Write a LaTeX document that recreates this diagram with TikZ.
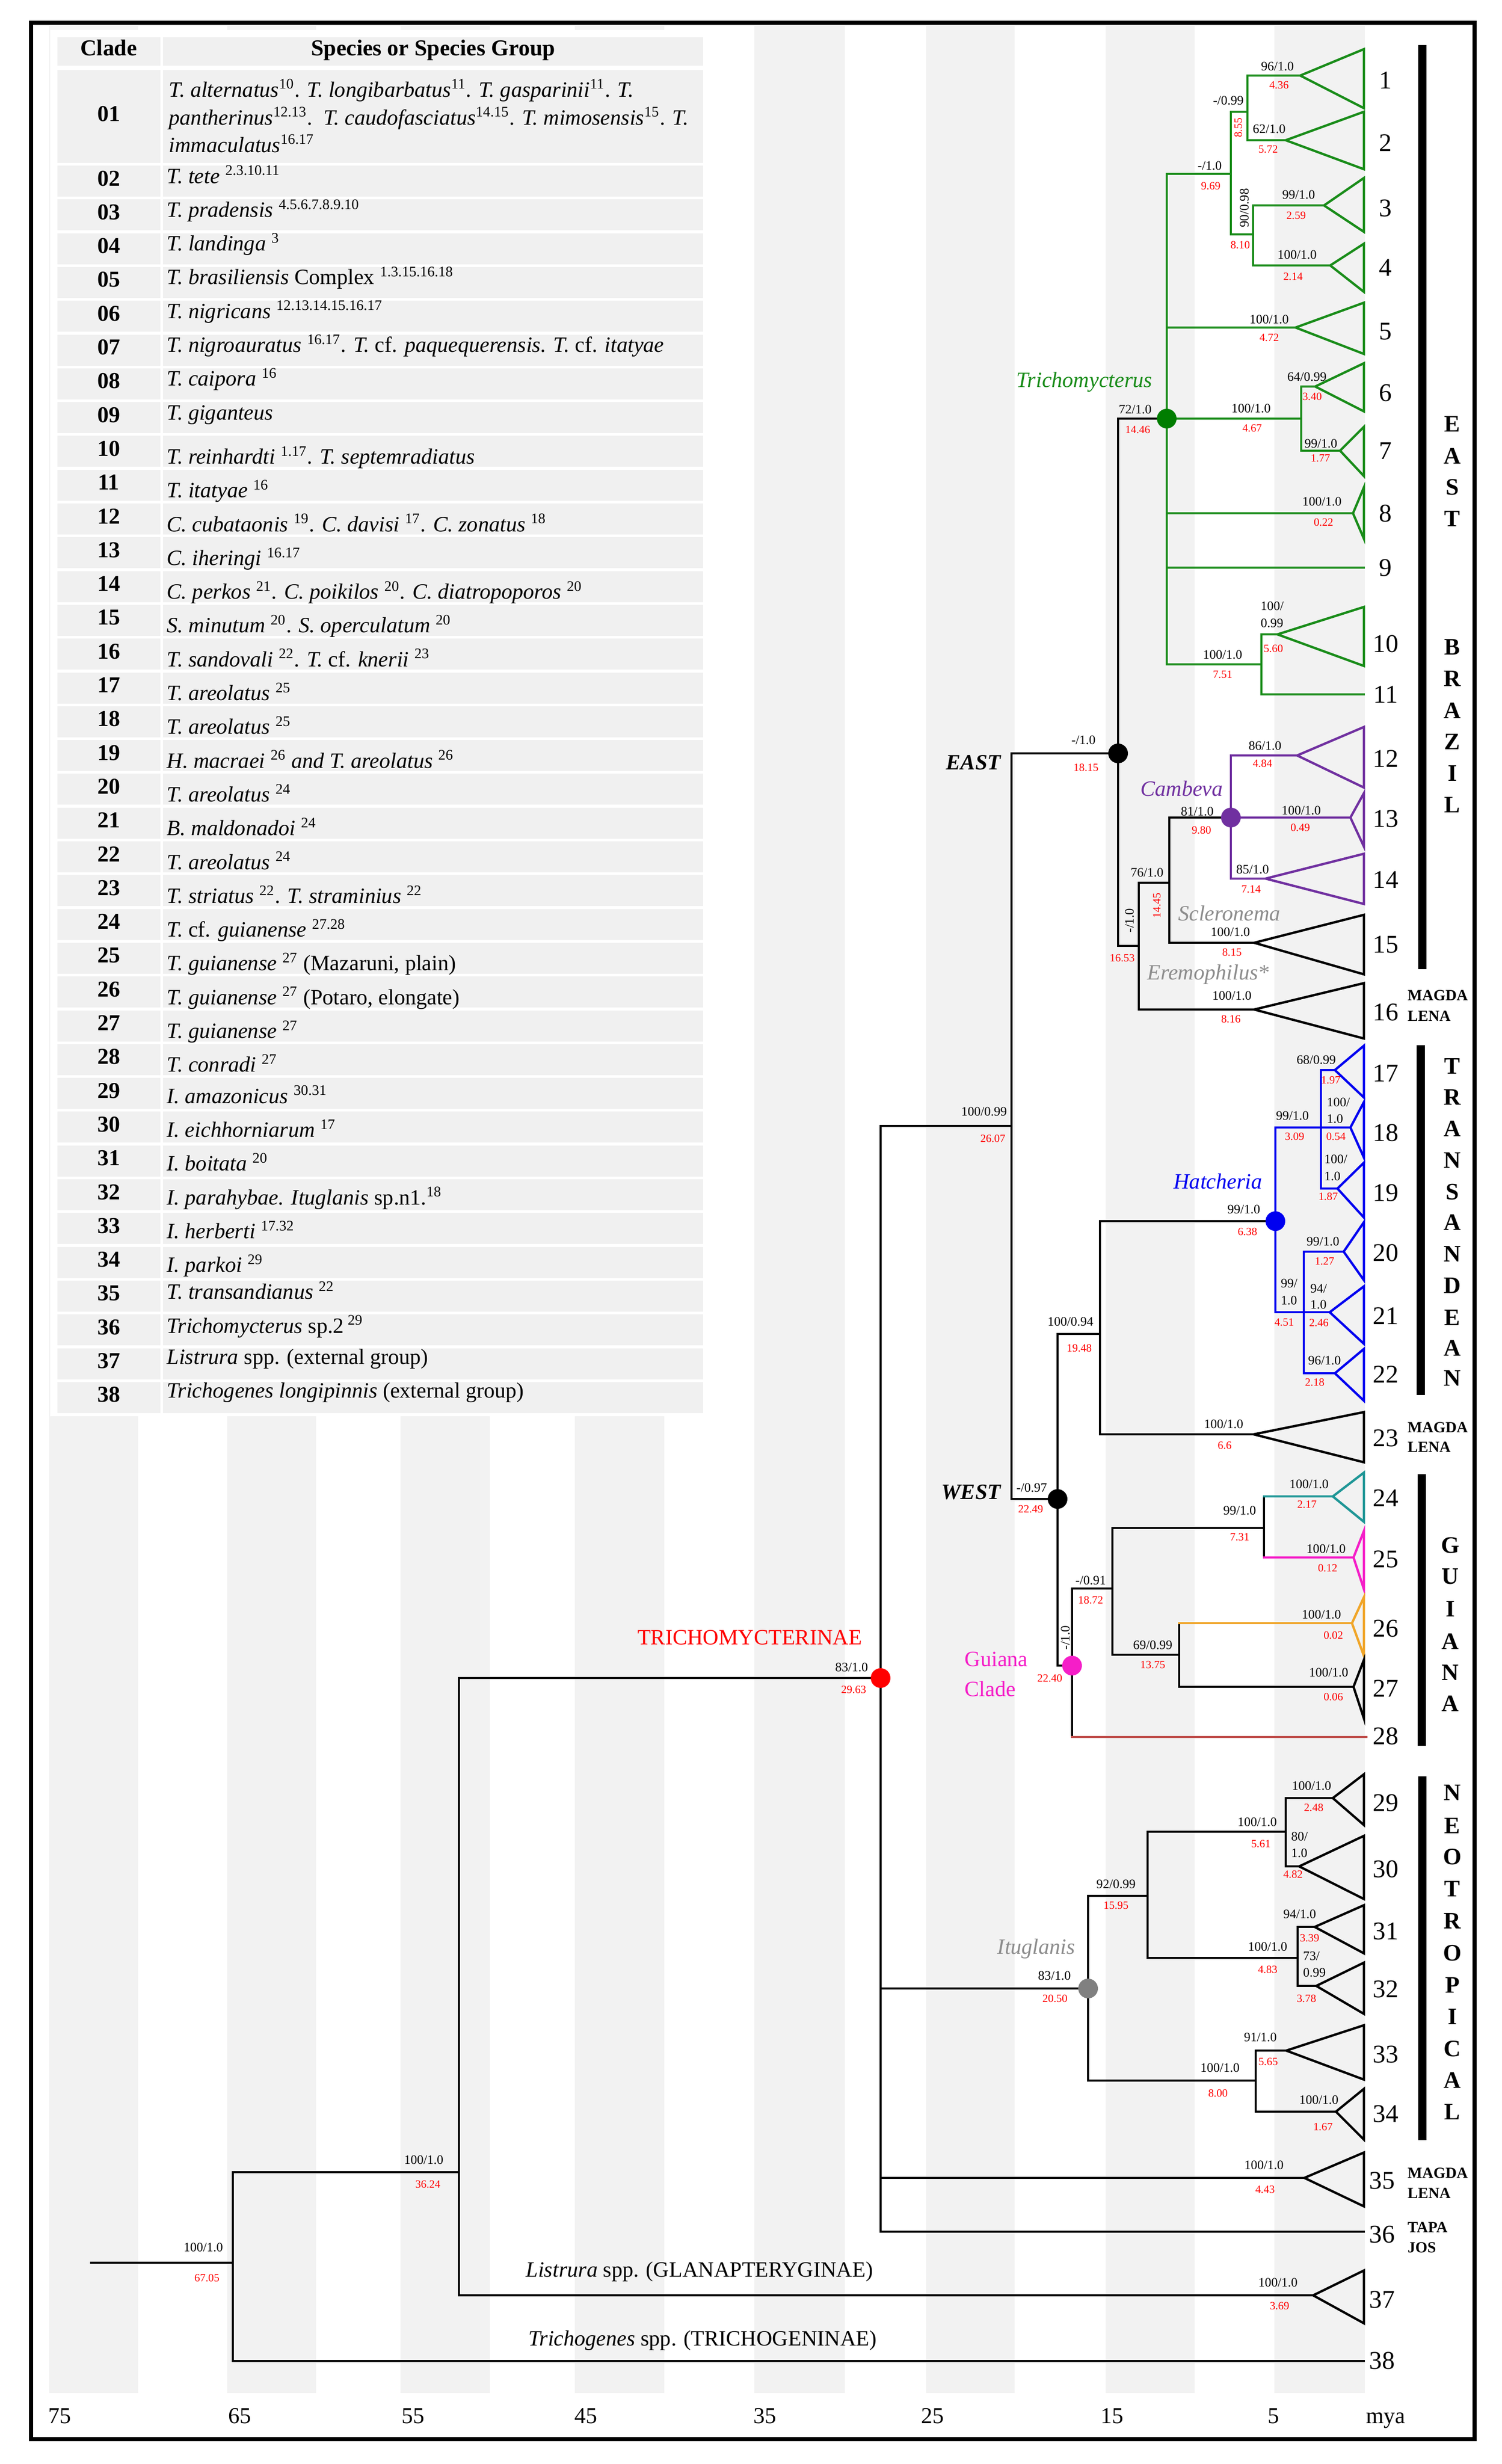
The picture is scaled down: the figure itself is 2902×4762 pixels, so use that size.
\documentclass[tikz,border=0pt]{standalone}
\usepackage{fontspec}
\setmainfont{Liberation Serif}
\definecolor{bandgray}{RGB}{242,242,242}
\definecolor{cellgray}{RGB}{240,240,240}
\definecolor{tgreen}{RGB}{25,140,25}
\definecolor{dgreen}{RGB}{0,125,0}
\definecolor{tpurple}{RGB}{112,48,160}
\definecolor{tblue}{RGB}{0,0,240}
\definecolor{tteal}{RGB}{30,150,150}
\definecolor{tpink}{RGB}{245,30,200}
\definecolor{torange}{RGB}{240,165,40}
\definecolor{tbrown}{RGB}{192,80,77}
\definecolor{tred}{RGB}{255,0,0}
\definecolor{tgray}{RGB}{140,140,140}
\definecolor{dotgray}{RGB}{128,128,128}
\newcounter{lab}
\newcommand{\SL}[3]{\stepcounter{lab}\node[suplab] (s\thelab) at (#1,#2) {#3};}
\newcommand{\SLW}[3]{\stepcounter{lab}\node[suplab,anchor=west] (s\thelab) at (#1,#2) {#3};}
\newcommand{\AL}[3]{\stepcounter{lab}\node[agelab] (a\thelab) at (#1,#2) {#3};}
\newcommand{\tri}[4]{\draw[#1] (#2) -- (2636,#3) -- (2636,#4) -- cycle;}
\newcommand{\sprow}[3]{\pgfmathsetmacro\rowtop{320+(#1-2)*65.3}\node[sptext] (sp#1) at (322,\rowtop+#2) {#3};}
\begin{document}
\begin{tikzpicture}[x=0.01cm,y=-0.01cm,
  br/.style={line width=0.045cm,line cap=rect,line join=miter},
  blk/.style={br,draw=black}, grn/.style={br,draw=tgreen}, pur/.style={br,draw=tpurple},
  blu/.style={br,draw=tblue}, tea/.style={br,draw=tteal}, pnk/.style={br,draw=tpink},
  org/.style={br,draw=torange}, brn/.style={br,draw=tbrown},
  suplab/.style={inner sep=0pt,font=\fontsize{7.1}{8}\selectfont},
  agelab/.style={inner sep=0pt,text=tred,font=\fontsize{6.1}{7}\selectfont},
  tipnum/.style={inner sep=0pt,font=\fontsize{14}{16}\selectfont},
  reg/.style={inner sep=0pt,font=\fontsize{13}{15}\selectfont\bfseries},
  area/.style={inner sep=0pt,anchor=west,font=\fontsize{8.5}{10}\selectfont\bfseries},
  clname/.style={inner sep=0pt,font=\fontsize{12}{14}\selectfont\itshape},
  ewlab/.style={inner sep=0pt,anchor=east,font=\fontsize{12}{14}\selectfont\bfseries\itshape},
  plain/.style={inner sep=0pt,font=\fontsize{12}{14}\selectfont},
  dot/.style={circle,inner sep=0pt,minimum size=0.38cm,draw=none},
  axlab/.style={inner sep=0pt,anchor=base,font=\fontsize{12.5}{14}\selectfont},
  cnum/.style={inner sep=0pt,anchor=base,font=\fontsize{12.5}{15}\selectfont\bfseries},
  hdr/.style={inner sep=0pt,anchor=base,font=\fontsize{12.5}{15}\selectfont\bfseries},
  sptext/.style={inner sep=0pt,anchor=base west,font=\fontsize{12}{15}\selectfont},
  regbar/.style={line width=0.16cm}
]
\useasboundingbox (0,0) rectangle (2902,4762);
\fill[white] (0,0) rectangle (2902,4762);
% time bands
\foreach \a/\b in {95/267,439/611,774/947,1111/1284,1458/1633,1790/1961,2137/2309,2463/2638}
  \fill[bandgray] (\a,50) rectangle (\b,4625);
% ---------------- table ----------------
\fill[white] (97,58) rectangle (1367,2737);
\fill[cellgray] (111,72) rectangle (310,127);
\fill[cellgray] (315,72) rectangle (1359,127);
\fill[cellgray] (111,135) rectangle (310,315);
\fill[cellgray] (315,135) rectangle (1359,315);
\node[hdr] (hc) at (210,107) {Clade};
\node[hdr] (hs) at (837,107) {Species or Species Group};
\foreach \k in {2,...,38}{
  \pgfmathsetmacro\rowtop{320+(\k-2)*65.3}
  \fill[cellgray] (111,\rowtop) rectangle (310,\rowtop+60);
  \fill[cellgray] (315,\rowtop) rectangle (1359,\rowtop+60);
  \node[cnum] (cn\k) at (210,\rowtop+39) {\ifnum\k<10 0\fi\k};
}
\node[cnum] (cn1) at (210,234) {01};
\node[sptext] (sp1a) at (326,187) {\textit{T. alternatus}\textsuperscript{10}. \textit{T. longibarbatus}\textsuperscript{11}. \textit{T. gasparinii}\textsuperscript{11}. \textit{T.}};
\node[sptext] (sp1b) at (326,241) {\textit{pantherinus}\textsuperscript{12.13}.\ \ \textit{T. caudofasciatus}\textsuperscript{14.15}. \textit{T. mimosensis}\textsuperscript{15}. \textit{T.}};
\node[sptext] (sp1c) at (326,294) {\textit{immaculatus}\textsuperscript{16.17}};
\sprow{2}{34}{\textit{T. tete} \textsuperscript{2.3.10.11}}
\sprow{3}{34}{\textit{T. pradensis} \textsuperscript{4.5.6.7.8.9.10}}
\sprow{4}{34}{\textit{T. landinga} \textsuperscript{3}}
\sprow{5}{34}{\textit{T. brasiliensis} Complex \textsuperscript{1.3.15.16.18}}
\sprow{6}{34}{\textit{T. nigricans} \textsuperscript{12.13.14.15.16.17}}
\sprow{7}{34}{\textit{T. nigroauratus} \textsuperscript{16.17}. \textit{T.} cf. \textit{paquequerensis. T.} cf. \textit{itatyae}}
\sprow{8}{34}{\textit{T. caipora} \textsuperscript{16}}
\sprow{9}{34}{\textit{T. giganteus}}
\sprow{10}{54}{\textit{T. reinhardti} \textsuperscript{1.17}. \textit{T. septemradiatus}}
\sprow{11}{54}{\textit{T. itatyae} \textsuperscript{16}}
\sprow{12}{54}{\textit{C. cubataonis} \textsuperscript{19}. \textit{C. davisi} \textsuperscript{17}. \textit{C. zonatus} \textsuperscript{18}}
\sprow{13}{54}{\textit{C. iheringi} \textsuperscript{16.17}}
\sprow{14}{54}{\textit{C. perkos} \textsuperscript{21}. \textit{C. poikilos} \textsuperscript{20}. \textit{C. diatropoporos} \textsuperscript{20}}
\sprow{15}{54}{\textit{S. minutum} \textsuperscript{20}. \textit{S. operculatum} \textsuperscript{20}}
\sprow{16}{54}{\textit{T. sandovali} \textsuperscript{22}. \textit{T.} cf. \textit{knerii} \textsuperscript{23}}
\sprow{17}{54}{\textit{T. areolatus} \textsuperscript{25}}
\sprow{18}{54}{\textit{T. areolatus} \textsuperscript{25}}
\sprow{19}{54}{\textit{H. macraei} \textsuperscript{26} \textit{and T. areolatus} \textsuperscript{26}}
\sprow{20}{54}{\textit{T. areolatus} \textsuperscript{24}}
\sprow{21}{54}{\textit{B. maldonadoi} \textsuperscript{24}}
\sprow{22}{54}{\textit{T. areolatus} \textsuperscript{24}}
\sprow{23}{54}{\textit{T. striatus} \textsuperscript{22}. \textit{T. straminius} \textsuperscript{22}}
\sprow{24}{54}{\textit{T.} cf. \textit{guianense} \textsuperscript{27.28}}
\sprow{25}{54}{\textit{T. guianense} \textsuperscript{27} (Mazaruni, plain)}
\sprow{26}{54}{\textit{T. guianense} \textsuperscript{27} (Potaro, elongate)}
\sprow{27}{54}{\textit{T. guianense} \textsuperscript{27}}
\sprow{28}{54}{\textit{T. conradi} \textsuperscript{27}}
\sprow{29}{49}{\textit{I. amazonicus} \textsuperscript{30.31}}
\sprow{30}{49}{\textit{I. eichhorniarum} \textsuperscript{17}}
\sprow{31}{49}{\textit{I. boitata} \textsuperscript{20}}
\sprow{32}{49}{\textit{I. parahybae. Ituglanis} sp.n1.\textsuperscript{18}}
\sprow{33}{49}{\textit{I. herberti} \textsuperscript{17.32}}
\sprow{34}{49}{\textit{I. parkoi} \textsuperscript{29}}
\sprow{35}{36}{\textit{T. transandianus} \textsuperscript{22}}
\sprow{36}{36}{\textit{Trichomycterus} sp.2\,\textsuperscript{29}}
\sprow{37}{31}{\textit{Listrura} spp. (external group)}
\sprow{38}{31}{\textit{Trichogenes longipinnis} (external group)}
% ---------------- tree coordinates ----------------
\coordinate (t1) at (2513,146);  \coordinate (t2) at (2485,271);
\coordinate (t3) at (2559,397);  \coordinate (t4) at (2571,513);
\coordinate (t5) at (2504,633);  \coordinate (t6) at (2542,747);
\coordinate (t7) at (2590,871);  \coordinate (t8) at (2615,992);
\coordinate (t9) at (2636,1097); \coordinate (t10) at (2469,1226);
\coordinate (t11) at (2636,1342); \coordinate (t12) at (2507,1460);
\coordinate (t13) at (2610,1580); \coordinate (t14) at (2446,1698);
\coordinate (t15) at (2424,1822); \coordinate (t16) at (2424,1951);
\coordinate (t17) at (2580,2068); \coordinate (t18) at (2610,2179);
\coordinate (t19) at (2585,2297); \coordinate (t20) at (2597,2419);
\coordinate (t21) at (2570,2536); \coordinate (t22) at (2580,2654);
\coordinate (t23) at (2423,2772); \coordinate (t24) at (2576,2892);
\coordinate (t25) at (2616,3010); \coordinate (t26) at (2613,3137);
\coordinate (t27) at (2616,3260); \coordinate (t28) at (2641,3357);
\coordinate (t29) at (2576,3475); \coordinate (t30) at (2511,3607);
\coordinate (t31) at (2541,3724); \coordinate (t32) at (2544,3838);
\coordinate (t33) at (2486,3963); \coordinate (t34) at (2582,4081);
\coordinate (t35) at (2521,4209); \coordinate (t36) at (2636,4313);
\coordinate (t37) at (2538,4436); \coordinate (t38) at (2636,4563);
\coordinate (nA) at (2411,216);  \coordinate (nB) at (2422,453);
\coordinate (nC) at (2379,336);  \coordinate (nD) at (2515,809);
\coordinate (nE) at (2438,1284); \coordinate (nT) at (2255,809);
\coordinate (nEast) at (2161,1456); \coordinate (nCamb) at (2379,1580);
\coordinate (nF) at (2260,1706); \coordinate (nG) at (2201,1828);
\coordinate (nEW) at (1955,2176); \coordinate (nH) at (2465,2360);
\coordinate (nI) at (2553,2179); \coordinate (nJ) at (2520,2536);
\coordinate (nK) at (2126,2578); \coordinate (nWest) at (2044,2897);
\coordinate (nGui) at (2072,3219); \coordinate (nL) at (2150,3070);
\coordinate (nM) at (2443,2953); \coordinate (nN) at (2279,3198);
\coordinate (nTri) at (1702,3243); \coordinate (nItu) at (2103,3843);
\coordinate (nO) at (2218,3664); \coordinate (nP) at (2485,3540);
\coordinate (nQ) at (2508,3784); \coordinate (nR) at (2427,4021);
\coordinate (nS) at (887,4198);  \coordinate (nRoot) at (450,4373);
\coordinate (root) at (176,4373);
% ---------------- branches ----------------
\draw[grn] (nA) |- (t1); \draw[grn] (nA) |- (t2);
\draw[grn] (nB) |- (t3); \draw[grn] (nB) |- (t4);
\draw[grn] (nC) |- (nA); \draw[grn] (nC) |- (nB);
\draw[grn] (nD) |- (t6); \draw[grn] (nD) |- (t7);
\draw[grn] (nE) |- (t10); \draw[grn] (nE) |- (t11);
\draw[grn] (nT) |- (nC); \draw[grn] (nT) |- (t5); \draw[grn] (nT) |- (nD);
\draw[grn] (nT) |- (t8); \draw[grn] (nT) |- (t9); \draw[grn] (nT) |- (nE);
\draw[blk] (nEast) |- (nT); \draw[blk] (nEast) |- (nG);
\draw[blk] (nG) |- (nF); \draw[blk] (nG) |- (t16);
\draw[blk] (nF) |- (nCamb); \draw[blk] (nF) |- (t15);
\draw[pur] (nCamb) |- (t12); \draw[pur] (nCamb) |- (t13); \draw[pur] (nCamb) |- (t14);
\draw[blk] (nEW) |- (nEast); \draw[blk] (nEW) |- (nWest);
\draw[blk] (nWest) |- (nK); \draw[blk] (nK) |- (nH); \draw[blk] (nK) |- (t23);
\draw[blu] (nH) |- (nI); \draw[blu] (nH) |- (nJ);
\draw[blu] (nI) |- (t17); \draw[blu] (nI) |- (t18); \draw[blu] (nI) |- (t19);
\draw[blu] (nJ) |- (t20); \draw[blu] (nJ) |- (t21); \draw[blu] (nJ) |- (t22);
\draw[blk] (nWest) |- (nGui); \draw[blk] (nGui) |- (nL);
\draw[blk] (nL) |- (nM); \draw[blk] (nL) |- (nN);
\draw[blk] (nM) -- (nM |- t24); \draw[tea] (nM |- t24) -- (t24);
\draw[blk] (nM) -- (nM |- t25); \draw[pnk] (nM |- t25) -- (t25);
\draw[blk] (nN) -- (nN |- t26); \draw[org] (nN |- t26) -- (t26);
\draw[blk] (nN) |- (t27);
\draw[blk] (nGui) -- (nGui |- t28); \draw[brn] (nGui |- t28) -- (t28);
\draw[blk] (nTri) |- (nEW); \draw[blk] (nTri) |- (nItu);
\draw[blk] (nTri) |- (t35); \draw[blk] (nTri) |- (t36);
\draw[blk] (nItu) |- (nO); \draw[blk] (nItu) |- (nR);
\draw[blk] (nO) |- (nP); \draw[blk] (nO) |- (nQ);
\draw[blk] (nP) |- (t29); \draw[blk] (nP) |- (t30);
\draw[blk] (nQ) |- (t31); \draw[blk] (nQ) |- (t32);
\draw[blk] (nR) |- (t33); \draw[blk] (nR) |- (t34);
\draw[blk] (nS) |- (nTri); \draw[blk] (nS) |- (t37);
\draw[blk] (nRoot) |- (nS); \draw[blk] (nRoot) |- (t38);
\draw[blk] (root) -- (nRoot);
% ---------------- triangles ----------------
\tri{grn}{t1}{95}{209} \tri{grn}{t2}{216}{327} \tri{grn}{t3}{344}{448}
\tri{grn}{t4}{471}{564} \tri{grn}{t5}{585}{684} \tri{grn}{t6}{702}{795}
\tri{grn}{t7}{825}{920} \tri{grn}{t8}{942}{1041} \tri{grn}{t10}{1173}{1287}
\tri{pur}{t12}{1405}{1522} \tri{pur}{t13}{1533}{1636} \tri{pur}{t14}{1650}{1747}
\tri{blk}{t15}{1768}{1883} \tri{blk}{t16}{1900}{2007}
\tri{blu}{t17}{2021}{2121} \tri{blu}{t18}{2130}{2237} \tri{blu}{t19}{2247}{2353}
\tri{blu}{t20}{2362}{2474} \tri{blu}{t21}{2486}{2597} \tri{blu}{t22}{2607}{2707}
\tri{blk}{t23}{2729}{2826} \tri{tea}{t24}{2846}{2941} \tri{pnk}{t25}{2959}{3071}
\tri{org}{t26}{3087}{3200} \tri{blk}{t27}{3208}{3321}
\tri{blk}{t29}{3429}{3527} \tri{blk}{t30}{3548}{3670} \tri{blk}{t31}{3682}{3775}
\tri{blk}{t32}{3793}{3892} \tri{blk}{t33}{3914}{4019} \tri{blk}{t34}{4037}{4135}
\tri{blk}{t35}{4160}{4264} \tri{blk}{t37}{4388}{4490}
% ---------------- dots ----------------
\node[dot,fill=dgreen] (dT) at (nT) {};
\node[dot,fill=black] (dE) at (nEast) {};
\node[dot,fill=tpurple] (dC) at (nCamb) {};
\node[dot,fill=tblue] (dH) at (nH) {};
\node[dot,fill=black] (dW) at (nWest) {};
\node[dot,fill=tpink] (dG) at (nGui) {};
\node[dot,fill=tred] (dR) at (nTri) {};
\node[dot,fill=dotgray] (dI) at (nItu) {};
% ---------------- support / age labels ----------------
\SL{2469}{128}{96/1.0} \AL{2472}{165}{4.36}
\SL{2374}{194}{-/0.99}
\node[agelab,rotate=90] (r1) at (2393,247) {8.55};
\SL{2453}{249}{62/1.0} \AL{2451}{289}{5.72}
\SL{2338}{320}{-/1.0} \AL{2340}{360}{9.69}
\node[suplab,rotate=90] (r2) at (2405,402) {90/0.98};
\AL{2397}{474}{8.10}
\SL{2510}{376}{99/1.0} \AL{2505}{417}{2.59}
\SL{2507}{492}{100/1.0} \AL{2499}{535}{2.14}
\SL{2453}{617}{100/1.0} \AL{2453}{653}{4.72}
\SL{2526}{728}{64/0.99} \AL{2536}{766}{3.40}
\SL{2418}{789}{100/1.0} \AL{2420}{828}{4.67}
\SL{2194}{791}{72/1.0} \AL{2199}{831}{14.46}
\SL{2553}{857}{99/1.0} \AL{2552}{886}{1.77}
\SL{2555}{969}{100/1.0} \AL{2558}{1009}{0.22}
\SLW{2436}{1171}{100/} \SLW{2436}{1204}{0.99} \AL{2461}{1253}{5.60}
\SL{2363}{1265}{100/1.0} \AL{2363}{1304}{7.51}
\node[clname,text=tgreen] (lTri) at (2096,738) {Trichomycterus};
\SL{2094}{1430}{-/1.0} \AL{2099}{1483}{18.15}
\node[ewlab] (lEast) at (1935,1474) {EAST};
\SL{2445}{1441}{86/1.0} \AL{2440}{1475}{4.84}
\SL{2314}{1568}{81/1.0} \AL{2322}{1604}{9.80}
\SL{2515}{1566}{100/1.0} \AL{2513}{1599}{0.49}
\SL{2421}{1680}{85/1.0} \AL{2418}{1719}{7.14}
\SL{2217}{1686}{76/1.0}
\node[agelab,rotate=90] (r3) at (2236,1750) {14.45};
\node[suplab,rotate=90] (r4) at (2183,1779) {-/1.0};
\AL{2169}{1852}{16.53}
\SL{2378}{1801}{100/1.0} \AL{2381}{1840}{8.15}
\SL{2381}{1924}{100/1.0} \AL{2379}{1969}{8.16}
\node[clname,text=tpurple] (lCamb) at (2284,1524) {Cambeva};
\node[clname,text=tgray] (lScl) at (2376,1765) {Scleronema};
\node[clname,text=tgray] (lEre) at (2335,1883) {Eremophilus*};
\SL{1902}{2148}{100/0.99} \AL{1919}{2200}{26.07}
\SL{2544}{2048}{68/0.99} \AL{2572}{2088}{1.97}
\SLW{2564}{2130}{100/} \SLW{2564}{2162}{1.0} \AL{2582}{2196}{0.54}
\SLW{2559}{2240}{100/} \SLW{2559}{2273}{1.0} \AL{2567}{2312}{1.87}
\SL{2498}{2156}{99/1.0} \AL{2502}{2196}{3.09}
\node[clname,text=tblue] (lHat) at (2354,2283) {Hatcheria};
\SL{2404}{2337}{99/1.0} \AL{2411}{2380}{6.38}
\SL{2557}{2399}{99/1.0} \AL{2560}{2438}{1.27}
\SLW{2475}{2480}{99/} \SLW{2475}{2513}{1.0} \AL{2482}{2556}{4.51}
\SLW{2532}{2490}{94/} \SLW{2532}{2521}{1.0} \AL{2549}{2557}{2.46}
\SL{2560}{2629}{96/1.0} \AL{2541}{2671}{2.18}
\SL{2069}{2554}{100/0.94} \AL{2086}{2605}{19.48}
\SL{2365}{2752}{100/1.0} \AL{2367}{2794}{6.6}
\node[ewlab] (lWest) at (1935,2884) {WEST};
\SL{1994}{2875}{-/0.97} \AL{1992}{2917}{22.49}
\SL{2396}{2919}{99/1.0} \AL{2396}{2971}{7.31}
\SL{2530}{2868}{100/1.0} \AL{2526}{2908}{2.17}
\SL{2563}{2993}{100/1.0} \AL{2566}{3030}{0.12}
\SL{2108}{3054}{-/0.91} \AL{2108}{3092}{18.72}
\SL{2228}{3179}{69/0.99} \AL{2228}{3218}{13.75}
\SL{2554}{3120}{100/1.0} \AL{2577}{3160}{0.02}
\SL{2568}{3232}{100/1.0} \AL{2577}{3279}{0.06}
\node[suplab,rotate=90] (r5) at (2059,3165) {-/1.0};
\AL{2029}{3243}{22.40}
\node[plain,anchor=west,text=tpink] (lGui1) at (1864,3207) {Guiana};
\node[plain,anchor=west,text=tpink] (lGui2) at (1864,3264) {Clade};
\node[plain,text=tred] (lTrm) at (1449,3165) {TRICHOMYCTERINAE};
\SL{1646}{3222}{83/1.0} \AL{1650}{3266}{29.63}
\node[clname,text=tgray] (lItu) at (2003,3766) {Ituglanis};
\SL{2038}{3818}{83/1.0} \AL{2039}{3862}{20.50}
\SL{2157}{3641}{92/0.99} \AL{2157}{3683}{15.95}
\SL{2430}{3521}{100/1.0} \AL{2437}{3564}{5.61}
\SL{2535}{3451}{100/1.0} \AL{2539}{3493}{2.48}
\SLW{2495}{3549}{80/} \SLW{2495}{3581}{1.0} \AL{2499}{3622}{4.82}
\SL{2450}{3762}{100/1.0} \AL{2450}{3806}{4.83}
\SL{2512}{3699}{94/1.0} \AL{2531}{3746}{3.39}
\SLW{2518}{3780}{73/} \SLW{2518}{3812}{0.99} \AL{2525}{3862}{3.78}
\SL{2358}{3996}{100/1.0} \AL{2354}{4045}{8.00}
\SL{2436}{3937}{91/1.0} \AL{2451}{3984}{5.65}
\SL{2549}{4058}{100/1.0} \AL{2557}{4110}{1.67}
\SL{2443}{4184}{100/1.0} \AL{2445}{4231}{4.43}
\SL{2470}{4411}{100/1.0} \AL{2473}{4456}{3.69}
\SL{819}{4174}{100/1.0} \AL{827}{4221}{36.24}
\SL{393}{4343}{100/1.0} \AL{400}{4402}{67.05}
\node[plain] (lLis) at (1352,4390) {\textit{Listrura} spp. (GLANAPTERYGINAE)};
\node[plain] (lTrg) at (1358,4523) {\textit{Trichogenes} spp. (TRICHOGENINAE)};
% ---------------- tip numbers ----------------
\foreach \nn/\yy in {1/155,2/276,3/402,4/517,5/641,6/759,7/871,8/992,9/1097,10/1244,11/1342,12/1466,13/1582,14/1700,15/1825,16/1956,17/2074,18/2189,19/2305,20/2421,21/2543,22/2656,23/2779,24/2895,25/3013,26/3147,27/3263,28/3355,29/3484,30/3612,31/3732,32/3844,33/3970,34/4085}
  \node[tipnum] (num\nn) at (2678,\yy) {\nn};
\foreach \nn/\yy in {35/4214,36/4318,37/4444,38/4562}
  \node[tipnum] (num\nn) at (2671,\yy) {\nn};
% ---------------- area labels ----------------
\node[area] (ma16) at (2720,1924) {MAGDA}; \node[area] (le16) at (2720,1964) {LENA};
\node[area] (ma23) at (2720,2759) {MAGDA}; \node[area] (le23) at (2720,2797) {LENA};
\node[area] (ma35) at (2720,4200) {MAGDA}; \node[area] (le35) at (2720,4239) {LENA};
\node[area] (ta36) at (2720,4305) {TAPA}; \node[area] (jo36) at (2720,4344) {JOS};
% ---------------- region bars ----------------
\draw[regbar] (2749,87) -- (2749,1873);
\draw[regbar] (2746,2020) -- (2746,2696);
\draw[regbar] (2748,2849) -- (2748,3374);
\draw[regbar] (2749,3433) -- (2749,4136);
\foreach \ch/\yy in {E/820,A/881,S/942,T/1003,B/1251,R/1312,A/1373,Z/1434,I/1495,L/1556}
  \node[reg] (eb\yy) at (2807,\yy) {\ch};
\foreach \ch/\yy in {T/2061,R/2120,A/2181,N/2242,S/2304,A/2362,N/2423,D/2485,E/2546,A/2605,N/2663}
  \node[reg] (ta\yy) at (2807,\yy) {\ch};
\foreach \ch/\yy in {G/2987,U/3047,I/3109,A/3172,N/3232,A/3292}
  \node[reg] (gu\yy) at (2803,\yy) {\ch};
\foreach \ch/\yy in {N/3464,E/3528,O/3589,T/3650,R/3712,O/3775,P/3836,I/3897,C/3960,A/4020,L/4081}
  \node[reg] (ne\yy) at (2807,\yy) {\ch};
% ---------------- axis ----------------
\foreach \lb/\xx in {75/115,65/463,55/798,45/1132,35/1478,25/1802,15/2149,5/2461,mya/2678}
  \node[axlab] (ax\xx) at (\xx,4683) {\lb};
% ---------------- frame ----------------
\draw[line width=0.08cm] (60,44) rectangle (2850,4714);
\end{tikzpicture}
\end{document}
